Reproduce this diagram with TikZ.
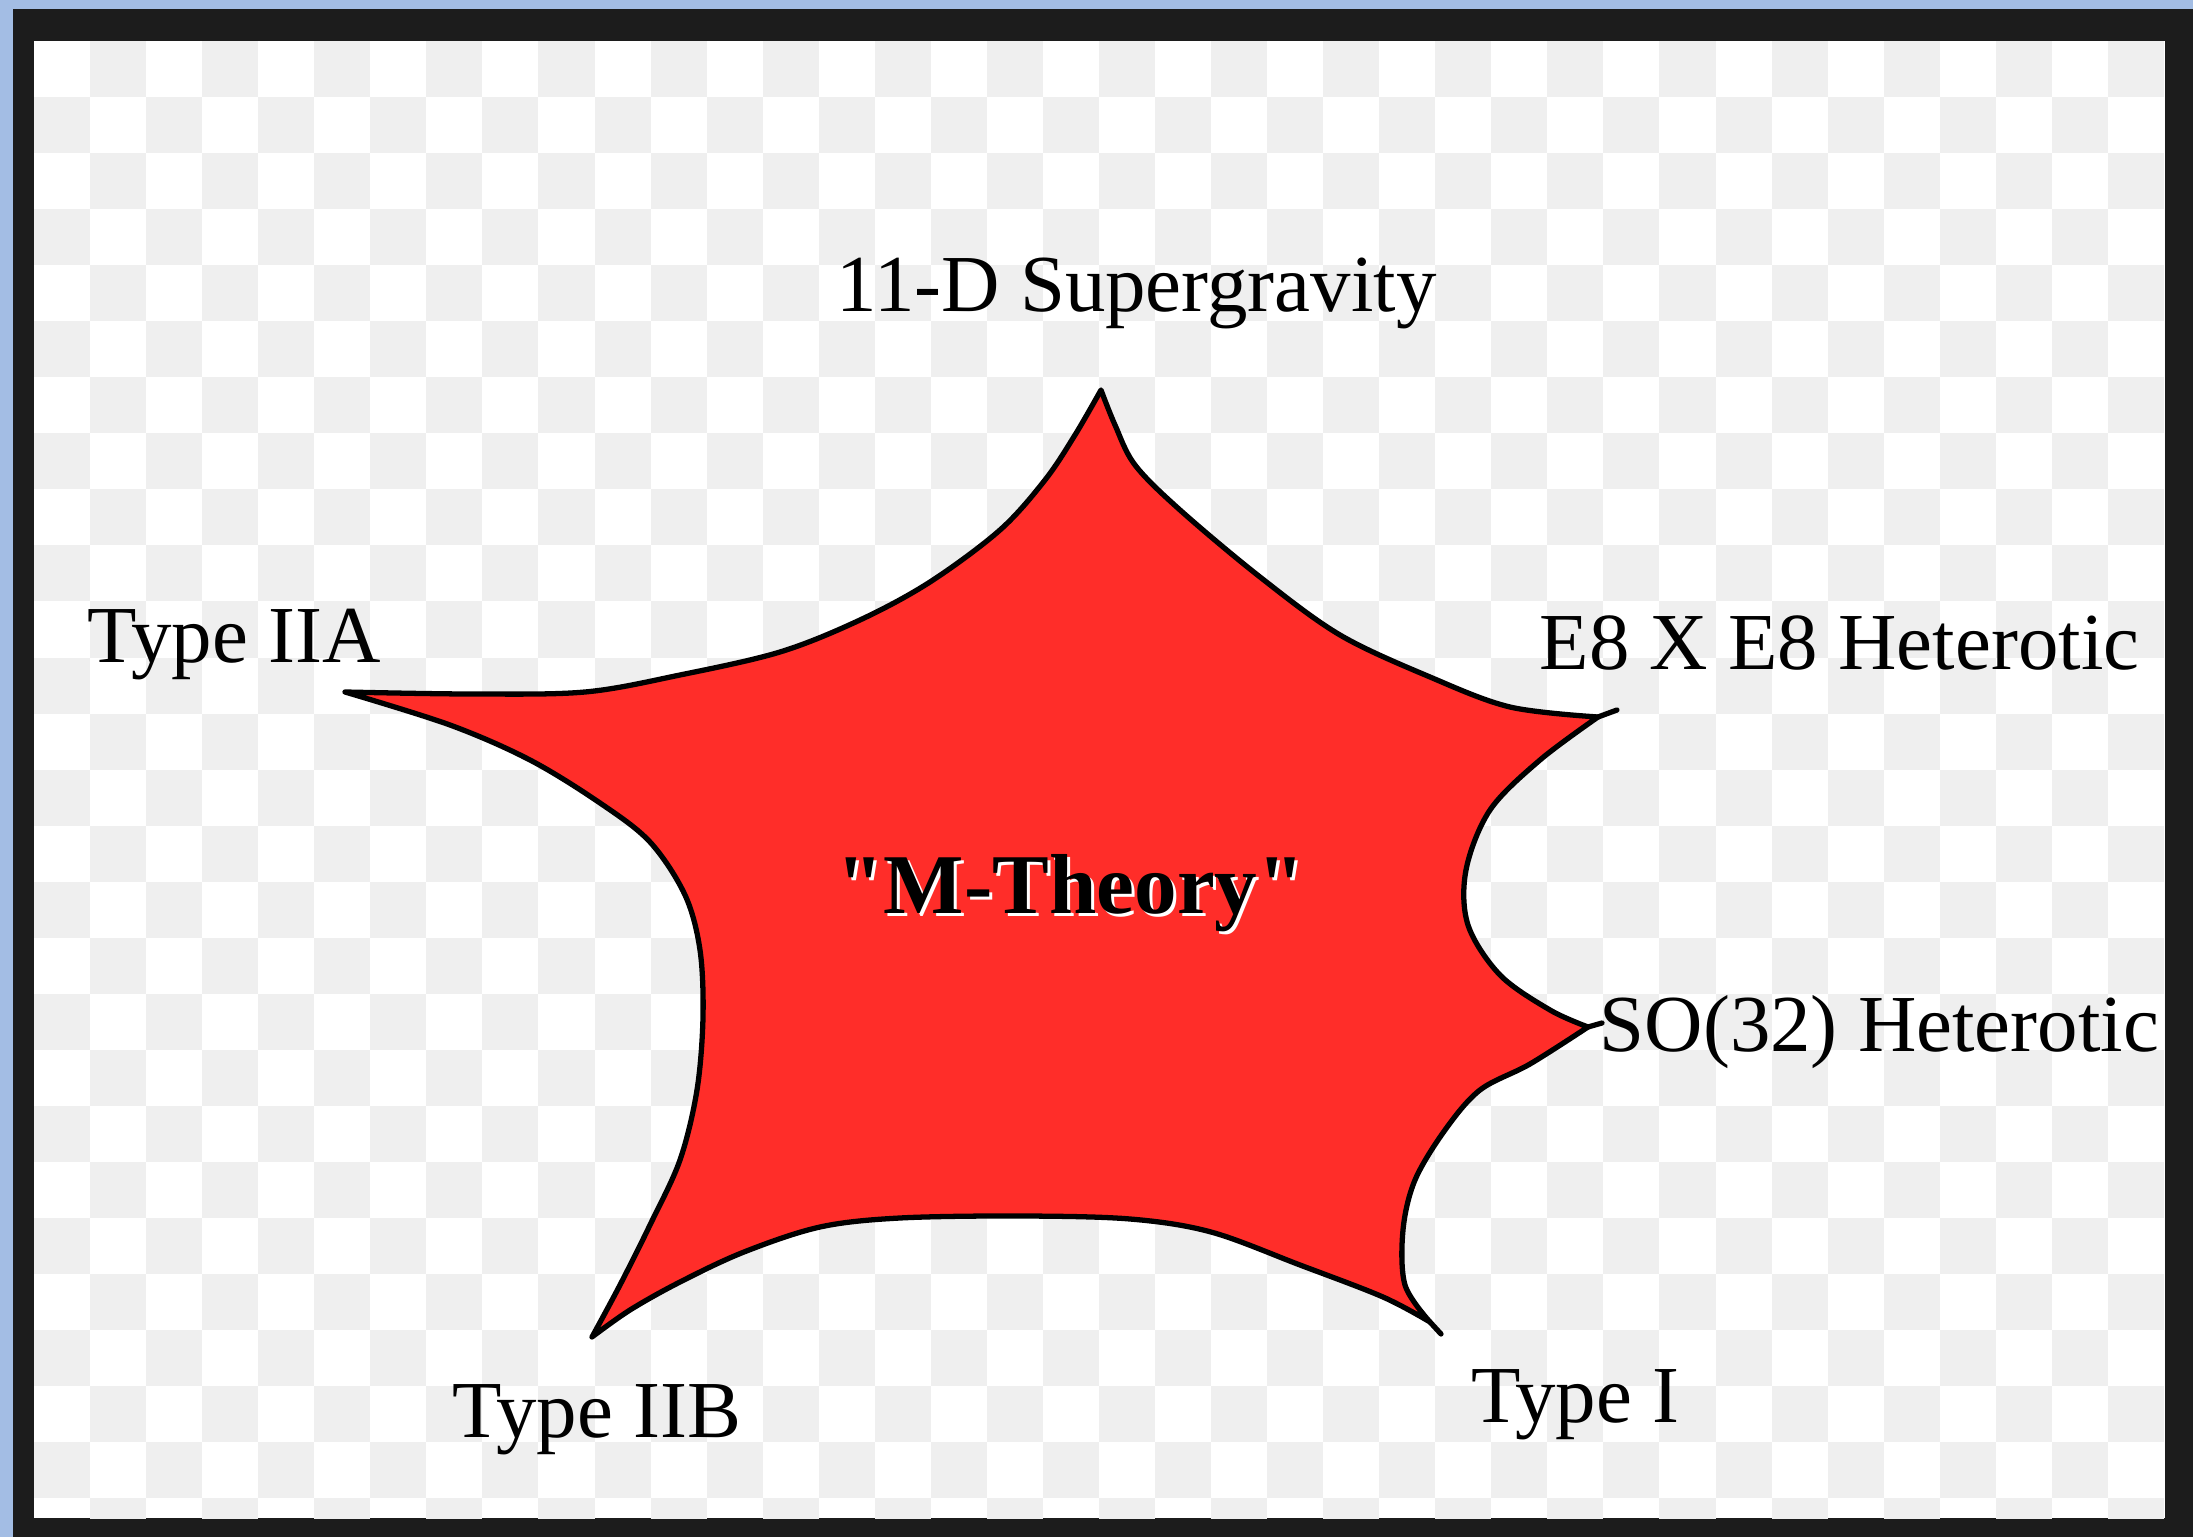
\documentclass[tikz,border=0pt]{standalone}
\usepackage{fontspec}
\setmainfont{Liberation Serif}[Ligatures=TeXOff]
\definecolor{edgebl}{HTML}{A3BDE4}
\definecolor{edgebk}{HTML}{1C1C1C}
\definecolor{chkgr}{HTML}{EFEFEF}
\definecolor{mred}{HTML}{FF2D29}
\tikzset{
  lbl/.style={inner sep=0pt,anchor=base west,font=\fontsize{23}{28}\selectfont},
  mlbl/.style={lbl,font=\fontsize{24.2}{28}\selectfont\bfseries},
  mstar/.style={fill=mred,draw=black,line width=1.5pt,line join=round},
  tail/.style={draw=black,line width=1.5pt,line cap=round},
  sm/.style={smooth,tension=.55}
}
\begin{document}
\begin{tikzpicture}[x=0.01cm,y=-0.01cm]
\useasboundingbox (0,0) rectangle (2193,1537);
\fill[edgebl] (0,0) rectangle (2193,1537);
\fill[edgebk] (13,9) rectangle (2193,1537);
% checker background
\begin{scope}
\clip (34,41) rectangle (2165,1518);
\fill[white] (34,41) rectangle (2165,1518);
\foreach \i in {0,...,37}{\foreach \j in {0,...,26}{%
  \ifodd\numexpr\i+\j\relax
    \fill[chkgr] ({34+56.05*\i},{41+56.05*\j}) rectangle ++(56.05,56.05);
  \fi}}
\end{scope}
% cusps
\coordinate (top) at (1101,390);
\coordinate (eee) at (1598,717);
\coordinate (so) at (1588,1027);
\coordinate (ti) at (1430,1322);
\coordinate (iib) at (592,1337);
\coordinate (iia) at (345,692);
\coordinate (eeet) at (1617,710);
\coordinate (sot) at (1602,1023);
\coordinate (tit) at (1441,1334);
\filldraw[mstar]
  plot[sm] coordinates {(top) (1115,425) (1135,465) (1180,510) (1260,577) (1340,635) (1430,677) (1510,707) (eee)}
  -- plot[sm] coordinates {(eee) (1540,760) (1490,810) (1466,870) (1468,925) (1500,975) (1550,1010) (so)}
  -- plot[sm] coordinates {(so) (1530,1064) (1480,1090) (1445,1130) (1415,1180) (1403,1230) (1405,1285) (ti)}
  -- plot[sm] coordinates {(ti) (1383,1297) (1300,1265) (1211,1232) (1130,1219) (1020,1216) (900,1218) (820,1227) (744,1252) (680,1282) (630,1310) (iib)}
  -- plot[sm] coordinates {(iib) (620,1285) (650,1225) (680,1160) (697,1090) (703,1017) (700,950) (685,895) (650,842) (600,803) (530,760) (450,725) (iia)}
  -- plot[sm] coordinates {(iia) (470,694) (585,692) (680,675) (780,652) (860,620) (930,582) (1000,530) (1045,480) (1075,435) (top)}
  -- cycle;
\draw[tail] (eee) -- (eeet);
\draw[tail] (so) -- (sot);
\draw[tail] (ti) -- (tit);
% labels
\node[lbl] (sugra) at (836,312) {11-D Supergravity};
\node[lbl] (iiaL) at (87,663) {Type IIA};
\node[lbl] (e8L) at (1539,670) {E8 X E8 Heterotic};
\node[lbl] (soL) at (1599,1052) {SO(32) Heterotic};
\node[lbl] (iibL) at (452,1437) {Type IIB};
\node[lbl] (tiL) at (1471,1422) {Type I};
\node[mlbl,white] (mthsh) at (839,917) {"M-Theory"};
\node[mlbl] (mth) at (836,914) {"M-Theory"};
\end{tikzpicture}
\end{document}
